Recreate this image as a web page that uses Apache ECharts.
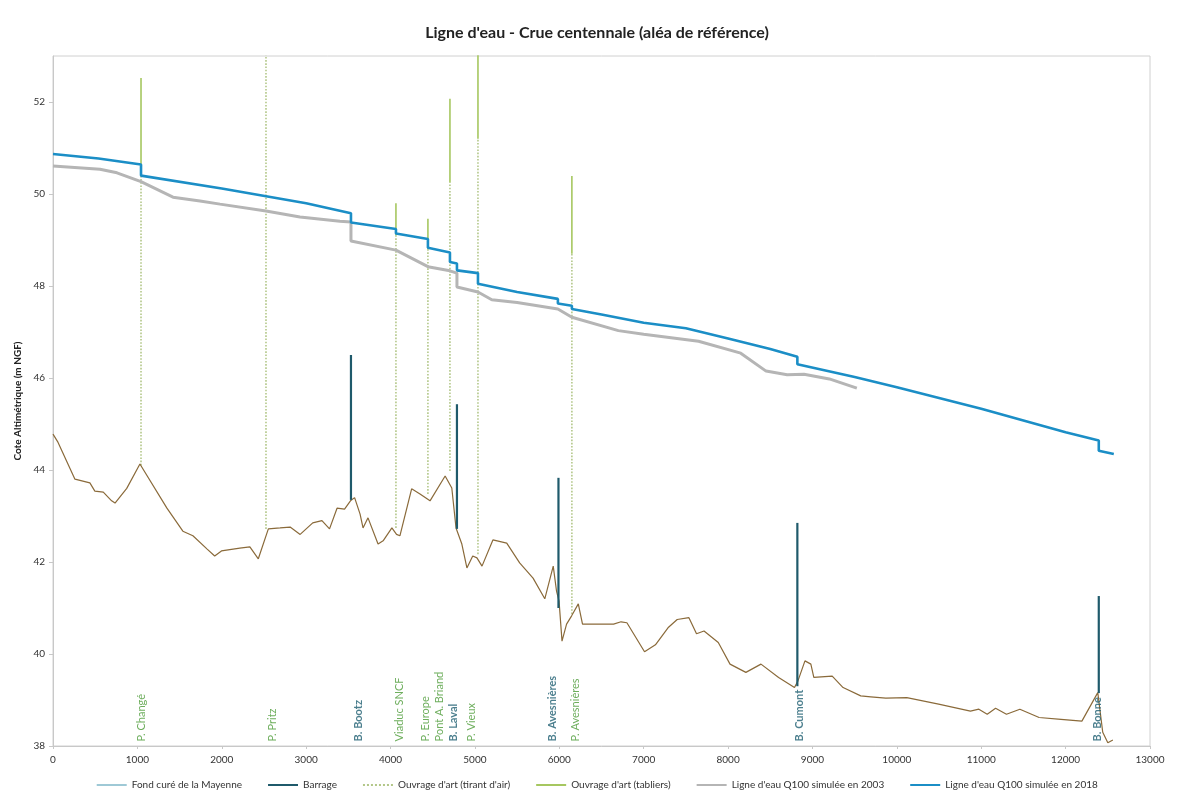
<!DOCTYPE html>
<html><head><meta charset="utf-8">
<script src="https://cdn.jsdelivr.net/npm/echarts@6/dist/echarts.min.js"></script>
<style>html,body{margin:0;padding:0;background:#fff}#c{width:1194px;height:801px}</style>
</head><body><div id="c"></div>
<script>
const titleText = "Ligne d'eau - Crue centennale (aléa de référence)";
const seriesNames = ["Fond curé de la Mayenne", "Barrage", "Ouvrage d'art (tirant d'air)", "Ouvrage d'art (tabliers)", "Ligne d'eau Q100 simulée en 2003", "Ligne d'eau Q100 simulée en 2018"];
const yTicks = [38, 40, 42, 44, 46, 48, 50, 52];
const xTicks = [0, 1000, 2000, 3000, 4000, 5000, 6000, 7000, 8000, 9000, 10000, 11000, 12000, 13000];

// Ground profile [distance (m), altitude (m NGF)]
const groundData = [
  [0,44.78],[60,44.6],[260,43.8],[437,43.72],[496,43.54],[596,43.52],[695,43.33],[735,43.28],[874,43.6],[1030,44.13],
  [1350,43.17],[1539,42.67],[1658,42.57],[1827,42.28],[1916,42.13],[1996,42.24],[2214,42.3],[2333,42.33],[2433,42.07],
  [2552,42.72],[2691,42.74],[2810,42.76],[2929,42.6],[3078,42.85],[3187,42.9],[3277,42.72],[3366,43.17],[3455,43.15],
  [3525,43.33],[3574,43.4],[3639,43.04],[3674,42.74],[3733,42.96],[3852,42.39],[3912,42.46],[4016,42.74],[4071,42.6],
  [4111,42.57],[4250,43.59],[4349,43.48],[4468,43.33],[4647,43.87],[4726,43.61],[4776,42.74],[4845,42.39],[4905,41.87],
  [4974,42.13],[5024,42.09],[5084,41.91],[5213,42.48],[5377,42.41],[5530,41.98],[5689,41.65],[5828,41.2],[5928,41.91],
  [5967,41.37],[5997,41.15],[6032,40.28],[6086,40.65],[6146,40.83],[6225,41.09],[6275,40.65],[6444,40.65],[6643,40.65],
  [6732,40.7],[6801,40.68],[7010,40.05],[7139,40.2],[7288,40.57],[7397,40.75],[7536,40.79],[7626,40.44],[7715,40.5],
  [7884,40.25],[8023,39.78],[8211,39.6],[8390,39.78],[8599,39.49],[8787,39.27],[8827,39.41],[8911,39.85],[8981,39.78],
  [9016,39.49],[9234,39.52],[9363,39.27],[9572,39.09],[9691,39.07],[9869,39.04],[10118,39.05],[10495,38.91],[10872,38.76],
  [10972,38.8],[11071,38.69],[11170,38.82],[11299,38.69],[11458,38.8],[11686,38.62],[11945,38.58],[12193,38.54],
  [12381,39.16],[12440,38.3],[12500,38.07],[12560,38.13]
];

// Water line 2018
const water2018 = [
  [0,50.87],[540,50.77],[1043,50.64],[1043,50.40],[2000,50.12],[3000,49.8],[3531,49.58],[3531,49.38],[4064,49.24],[4064,49.14],
  [4443,49.02],[4443,48.83],[4704,48.73],[4704,48.52],[4787,48.49],[4787,48.34],[5036,48.28],[5036,48.05],[5500,47.87],
  [5983,47.72],[5983,47.62],[6149,47.57],[6149,47.50],[6500,47.38],[7000,47.2],[7500,47.08],[8000,46.86],[8500,46.63],
  [8821,46.46],[8821,46.30],[9500,46.02],[10000,45.8],[11000,45.33],[12000,44.82],[12393,44.64],[12393,44.42],[12571,44.35]
];

// Water line 2003
const water2003 = [
  [0,50.61],[557,50.54],[758,50.46],[1043,50.27],[1422,49.93],[1742,49.85],[1979,49.78],[2524,49.63],[2927,49.5],[3400,49.41],
  [3531,49.39],[3531,48.98],[4064,48.78],[4443,48.42],[4704,48.33],[4787,48.28],[4787,47.98],[5036,47.87],[5200,47.7],
  [5500,47.64],[5983,47.5],[6149,47.32],[6700,47.03],[7000,46.95],[7650,46.8],[8150,46.54],[8450,46.15],[8700,46.07],
  [8900,46.08],[9200,45.98],[9526,45.78]
];

// Bridges (ouvrages d'art)
const bridgeX     = [1043, 2524, 4064, 4443, 4704, 5036, 6149];
const bridgeBase  = [44.1, 42.72, 42.74, 43.48, 43.98, 42.17, 40.87];
const bridgeUnder = [50.65, 54, 49.1, 48.8, 50.25, 51.2, 48.7];
const bridgeTop   = [52.52, 54, 49.8, 49.46, 52.07, 54, 50.39];

// Dams (barrages)
const damX    = [3531, 4787, 5990, 8821, 12393];
const damBase = [43.35, 42.72, 41.0, 39.3, 39.15];
const damTop  = [46.5, 45.43, 43.83, 42.85, 41.26];

// Structure labels
const labelNames = ["P. Changé", "P. Pritz", "B. Bootz", "Viaduc SNCF", "P. Europe", "Pont A. Briand", "B. Laval", "P. Vieux", "B. Avesnières", "P. Avesnières", "B. Cumont", "B. Bonne"];
const labelX     = [1054, 2595, 3614, 4111, 4419, 4585, 4751, 4964, 5924, 6197, 8851, 12381];
const labelKind  = ["P", "P", "B", "P", "P", "P", "B", "P", "B", "P", "B", "B"];
const labelY = 38.1;

const FONT = 'Lato, "Open Sans", sans-serif';
const C_GROUND = '#8a6a3a', C_DAM = '#1f5a6b', C_AIR = '#b3c789', C_DECK = '#a6c760', C_2003 = '#b5b5b5', C_2018 = '#1b8ec6';

const series = [];
series.push({ type: 'line', name: seriesNames[0], data: groundData, symbol: 'none', lineStyle: { color: C_GROUND, width: 1.2 }, itemStyle: { color: C_GROUND }, z: 3 });
damX.forEach((x, i) => series.push({ type: 'line', name: seriesNames[1], data: [[x, damBase[i]], [x, damTop[i]]], symbol: 'none', lineStyle: { color: C_DAM, width: 2.2 }, itemStyle: { color: C_DAM }, z: 6 }));
bridgeX.forEach((x, i) => series.push({ type: 'line', name: seriesNames[2], data: [[x, bridgeBase[i]], [x, bridgeUnder[i]]], symbol: 'none', lineStyle: { color: C_AIR, width: 1.6, type: 'dotted' }, itemStyle: { color: C_AIR }, z: 2 }));
bridgeX.forEach((x, i) => series.push({ type: 'line', name: seriesNames[3], data: [[x, bridgeUnder[i]], [x, bridgeTop[i]]], symbol: 'none', lineStyle: { color: C_DECK, width: 1.6 }, itemStyle: { color: C_DECK }, z: 2 }));
series.push({ type: 'line', name: seriesNames[4], data: water2003, symbol: 'none', lineStyle: { color: C_2003, width: 3 }, itemStyle: { color: C_2003 }, z: 4 });
series.push({ type: 'line', name: seriesNames[5], data: water2018, symbol: 'none', lineStyle: { color: C_2018, width: 2.6 }, itemStyle: { color: C_2018 }, z: 5 });
series.push({
  type: 'scatter', name: 'labels', silent: true, symbolSize: 1, itemStyle: { color: 'rgba(0,0,0,0)' }, z: 7,
  data: labelNames.map((n, i) => ({
    value: [labelX[i], labelY], name: n,
    label: { color: labelKind[i] === 'B' ? '#1f5f72' : '#4a9a35', fontWeight: labelKind[i] === 'B' ? 'bold' : 'normal' }
  })),
  label: { show: true, formatter: '{b}', rotate: 90, position: 'inside', align: 'left', verticalAlign: 'middle', fontSize: 11, fontFamily: FONT },
  labelLayout: { hideOverlap: false }
});

const chart = echarts.init(document.getElementById('c'));
chart.setOption({
  backgroundColor: '#fff',
  animation: false,
  textStyle: { fontFamily: FONT },
  title: { text: titleText, left: 'center', top: 20, textStyle: { fontSize: 16, fontWeight: 'bold', color: '#222', fontFamily: FONT } },
  grid: { left: 53, right: 44, top: 56, bottom: 55, show: true, borderColor: '#d0d0d0', borderWidth: 1 },
  legend: {
    bottom: 6, left: 'center', itemWidth: 30, itemHeight: 12, itemGap: 25,
    itemStyle: { opacity: 0 },
    textStyle: { fontSize: 10, color: '#333', fontFamily: FONT },
    data: [
      { name: seriesNames[0], lineStyle: { color: '#3f93ad', width: 1 } },
      { name: seriesNames[1] },
      { name: seriesNames[2] },
      { name: seriesNames[3] },
      { name: seriesNames[4] },
      { name: seriesNames[5] }
    ]
  },
  xAxis: {
    type: 'value', min: xTicks[0], max: xTicks[xTicks.length - 1], interval: 1000,
    axisLine: { show: true, lineStyle: { color: '#c8c8c8' } },
    axisTick: { show: true, length: 3, lineStyle: { color: '#c8c8c8' } },
    axisLabel: { fontSize: 10, color: '#333', margin: 9, formatter: v => String(v) },
    splitLine: { show: false }
  },
  yAxis: {
    type: 'value', min: 38, max: 53, interval: 2,
    name: 'Cote Altimétrique (m NGF)', nameLocation: 'middle', nameGap: 27,
    nameTextStyle: { fontSize: 10, fontWeight: 'bold', color: '#222' },
    axisLine: { show: true, lineStyle: { color: '#c8c8c8' } },
    axisTick: { show: true, length: 4, lineStyle: { color: '#c8c8c8' } },
    axisLabel: { fontSize: 10, color: '#333', margin: 8, showMaxLabel: false,
      formatter: v => yTicks.indexOf(v) >= 0 ? String(v) : '' },
    splitLine: { show: false }
  },
  series: series
});
</script>
</body></html>
